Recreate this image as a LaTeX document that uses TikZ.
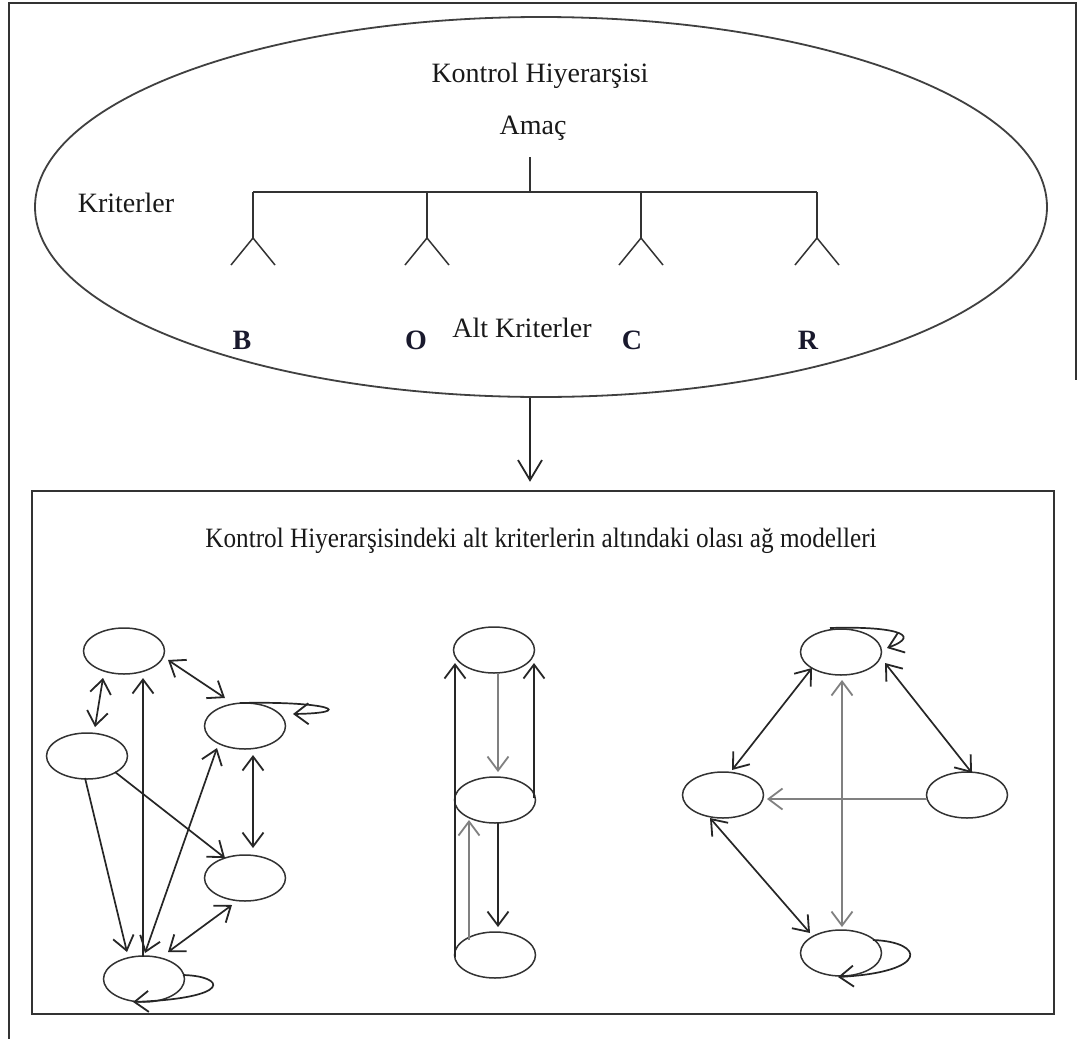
\documentclass[tikz,border=0pt]{standalone}
\usepackage{fontspec}
\setmainfont{Liberation Serif}
\newfontfamily\narrowserif{Liberation Serif}[FakeStretch=0.9]
\usetikzlibrary{arrows.meta,shapes.geometric,calc}
\begin{document}
\begin{tikzpicture}[x=1pt,y=-1pt,
  txt/.style={font=\fontsize{28}{32}\selectfont, inner sep=0pt, text=black!90},
  ntxt/.style={font=\narrowserif\fontsize{28}{32}\selectfont, inner sep=0pt, text=black!90},
  bocr/.style={font=\fontsize{28}{32}\selectfont\bfseries, inner sep=0pt, text={rgb,255:red,25;green,25;blue,45}},
  frame/.style={draw=black!80, line width=2pt},
  tree/.style={draw=black!80, line width=1.5pt},
  elem/.style={ellipse, draw=black!80, line width=1.5pt, minimum width=81pt, minimum height=46pt, inner sep=0pt},
  tip/.style={-{Straight Barb[length=14pt,width=21pt,line width=1.8pt]}},
  tips/.style={{Straight Barb[length=14pt,width=21pt,line width=1.8pt]}-{Straight Barb[length=14pt,width=21pt,line width=1.8pt]}},
  link/.style={draw=black!85, line width=1.7pt},
  glink/.style={draw=black!50, line width=1.7pt}]
\useasboundingbox (0,0) rectangle (1080,1039);
\fill[white] (0,0) rectangle (1080,1039);

% page frame
\draw[frame] (9,1039) -- (9,3) -- (1076,3) -- (1076,380);

% control hierarchy
\node[ellipse, draw=black!75, line width=1.8pt, minimum width=1012pt, minimum height=380pt, inner sep=0pt] (ctrl) at (541,207) {};
\node[txt] (title1) at (540,76) {Kontrol Hiyerarşisi};
\node[txt] (goal) at (533,128) {Amaç};
\node[txt] (crit) at (126,203) {Kriterler};
\draw[tree] (530,157) -- (530,192);
\draw[tree] (253,192) -- (817,192);
\foreach \bx in {253,427,641,817}{
  \draw[tree] (\bx,192) -- (\bx,238);
  \draw[tree] (\bx-22,265) -- (\bx,238) -- (\bx+22,265);
}
\node[bocr] (lb) at (242,340) {B};
\node[bocr] (lo) at (416,340) {O};
\node[bocr] (lc) at (632,340) {C};
\node[bocr] (lr) at (808,340) {R};
\node[txt] (sub) at (522,328) {Alt Kriterler};

% network models box
\node[draw=black!80, line width=2.4pt, minimum width=1022pt, minimum height=523pt, inner sep=0pt] (box) at (543,752.5) {};
\draw[link, -{Straight Barb[length=20pt,width=24pt,line width=1.8pt]}] ($(ctrl.south)+(-11,0)$) -- ($(box.north)+(-13,-8)$);
\node[ntxt] (title2) at (541,541) {Kontrol Hiyerarşisindeki alt kriterlerin altındaki olası ağ modelleri};

% left network
\node[elem] (a1) at (124,651) {};
\node[elem] (a2) at (87,756) {};
\node[elem] (a3) at (245,726) {};
\node[elem] (a4) at (245,878) {};
\node[elem] (a5) at (144,979) {};
\draw[link,tips] ($(a1)+(-21,27)$) -- ($(a2)+(8,-29)$);
\draw[link,tip] ($(a5)+(-1,-22)$) -- ($(a1)+(19,27)$);
\draw[link,tips] ($(a1)+(44,9)$) -- ($(a3)+(-20,-28)$);
\draw[link,tip] ($(a3)+(-5,-23)$) .. controls ($(a3)+(85,-25)$) and ($(a3)+(112,-13)$) .. ($(a3)+(48,-12)$);
\draw[link,tips] ($(a3)+(8,29)$) -- ($(a4)+(8,-30)$);
\draw[link,tip] ($(a2)+(28,16)$) -- ($(a4)+(-20,-20)$);
\draw[link,tip] ($(a2)+(-2,22)$) -- ($(a5)+(-17,-27)$);
\draw[link,tips] ($(a3)+(-28,22)$) -- ($(a5)+(1,-26)$);
\draw[link,tips] ($(a4)+(-13,27)$) -- ($(a5)+(24,-27)$);
\draw[link,tip] ($(a5)+(39,-4)$) .. controls ($(a5)+(81,-3)$) and ($(a5)+(91,19)$) .. ($(a5)+(-11,23)$);

% middle network
\node[elem] (b1) at (494,650) {};
\node[elem] (b2) at (495,800) {};
\node[elem] (b3) at (495,955) {};
\draw[link,tip] ($(b3)+(-40,2)$) -- ($(b1)+(-39,13)$);
\draw[link,tip] ($(b2)+(39,-2)$) -- ($(b1)+(40,13)$);
\draw[glink,tip] ($(b1)+(4,23)$) -- ($(b2)+(3,-28)$);
\draw[glink,tip] ($(b3)+(-26,-15)$) -- ($(b2)+(-26,20)$);
\draw[link,tip] ($(b2)+(3,23)$) -- ($(b3)+(3,-28)$);

% right network
\node[elem] (c1) at (841,652) {};
\node[elem] (c2) at (723,795) {};
\node[elem] (c3) at (967,795) {};
\node[elem] (c4) at (841,953) {};
\draw[link,tips] ($(c1)+(-29,16)$) -- ($(c2)+(9,-25)$);
\draw[link,tips] ($(c1)+(44,11)$) -- ($(c3)+(5,-22)$);
\draw[glink,tips] ($(c1)+(1,28)$) -- ($(c4)+(1,-26)$);
\draw[glink,tip] ($(c3)+(-40,4)$) -- ($(c2)+(44,4)$);
\draw[link,tips] ($(c2)+(-13,23)$) -- ($(c4)+(-31,-20)$);
\draw[link,tip] ($(c1)+(-11,-24)$) .. controls ($(c1)+(49,-26)$) and ($(c1)+(84,-18)$) .. ($(c1)+(46,-4)$);
\draw[link,tip] ($(c4)+(32,-13)$) .. controls ($(c4)+(84,-11)$) and ($(c4)+(89,19)$) .. ($(c4)+(-3,24)$);
\end{tikzpicture}
\end{document}
